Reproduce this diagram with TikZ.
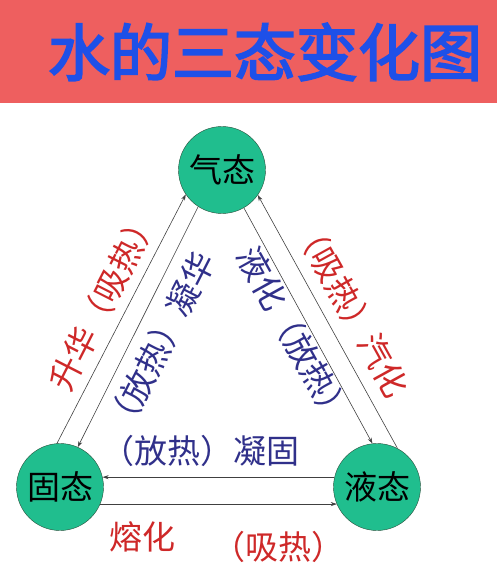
\documentclass[tikz,border=0pt]{standalone}
\usepackage{fontspec}
\usepackage{xcolor}
\usepackage{tikz}
\usetikzlibrary{arrows.meta}
\newfontfamily\cjk{Noto Sans CJK SC}
\newfontfamily\cjktitle[FakeBold=3]{Noto Sans CJK SC}
\definecolor{bandred}{RGB}{238,95,95}
\definecolor{titleblue}{RGB}{30,80,232}
\definecolor{stategreen}{RGB}{32,190,142}
\definecolor{stateedge}{RGB}{40,80,60}
\definecolor{heatred}{RGB}{206,40,40}
\definecolor{heatblue}{RGB}{48,48,138}
\tikzset{
  state/.style={circle, draw=stateedge, fill=stategreen, minimum size=87pt, inner sep=0pt,
    font={\cjk\fontsize{33}{38}\selectfont}},
  flow/.style={draw=black!75, line width=0.6pt, -{Stealth[length=6pt,width=4pt]}},
  redlbl/.style={text=heatred, inner sep=0pt, font={\cjk\fontsize{33}{38}\selectfont}},
  bluelbl/.style={text=heatblue, inner sep=0pt, font={\cjk\fontsize{33}{38}\selectfont}}
}
\begin{document}
\begin{tikzpicture}[x=1pt,y=-1pt]
		\useasboundingbox (0,0) rectangle (497,569);
		% title band
		\fill[bandred] (0,0) rectangle (497,103);
		\node[text=titleblue, font={\cjktitle\fontsize{62}{72}\selectfont}] (title) at (265,52) {水的三态变化图};
		% the three states
		\node[state] (gas) at (222,170) {气态};
		\node[state] (solid) at (60,487) {固态};
		\node[state] (liquid) at (377,487) {液态};
		% changes of state
		\draw[flow] (solid.94) -- (gas.214);
		\draw[flow] (gas.237) -- (solid.66);
		\draw[flow] (gas.300) -- (liquid.96);
		\draw[flow] (liquid.62) -- (gas.325);
		\draw[flow] (liquid.167) -- (solid.13);
		\draw[flow] (solid.337) -- (liquid.203);
		% labels
		\node[redlbl, rotate=63] (sublim) at (103,300) {升华（吸热）};
		\node[bluelbl, rotate=63] (deposit) at (160,343) {（放热）凝华};
		\node[bluelbl, rotate=-61] (condense) at (294,336) {液化（放热）};
		\node[redlbl, rotate=-61] (vapor) at (351,308) {（吸热）汽化};
		\node[bluelbl] (freeze) at (200,451) {（放热）凝固};
		\node[redlbl] (melt) at (142,537) {熔化};
		\node[redlbl] (meltheat) at (278,547) {（吸热）};
\end{tikzpicture}
\end{document}
